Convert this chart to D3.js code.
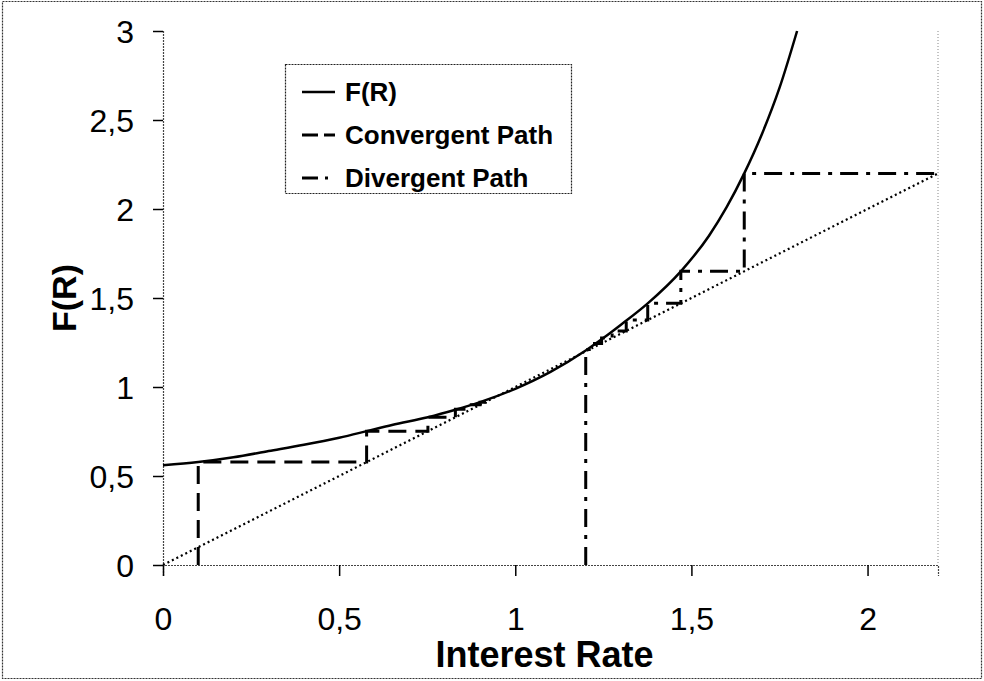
<!DOCTYPE html>
<html>
<head>
<meta charset="utf-8">
<script src="https://cdn.jsdelivr.net/npm/d3@7"></script>
<style>
  body { margin: 0; background: #fff; }
  text { font-family: "Liberation Sans", Arial, sans-serif; fill: #000; }
</style>
</head>
<body>
<div id="chart"></div>
<script>
// F(R)
var curveR = [0, 0.1, 0.2, 0.3, 0.4, 0.5, 0.578, 0.65, 0.752, 0.83, 0.9, 1.0, 1.1, 1.2, 1.25, 1.3, 1.376, 1.47, 1.55, 1.6, 1.65, 1.7, 1.75, 1.8];
var curveF = [0.56, 0.578, 0.605, 0.64, 0.675, 0.715, 0.752, 0.787, 0.83, 0.872, 0.915, 0.99, 1.085, 1.205, 1.275, 1.35, 1.47, 1.65, 1.85, 2.01, 2.2, 2.42, 2.68, 3.0];

// cobweb iterates R0, R1 = F(R0), ...
var convergentR = [0.1, 0.578, 0.752, 0.83, 0.875, 0.9, 0.915, 0.925, 0.93];
var divergentR = [1.2, 1.21, 1.225, 1.245, 1.275, 1.315, 1.376, 1.47, 1.65, 2.2];

// 45 degree line
var diagR = [0, 2.2];

var xTicks = [0, 0.5, 1, 1.5, 2];
var xTickLabels = ["0", "0,5", "1", "1,5", "2"];
var yTicks = [0, 0.5, 1, 1.5, 2, 2.5, 3];
var yTickLabels = ["0", "0,5", "1", "1,5", "2", "2,5", "3"];

var legendNames = ["F(R)", "Convergent Path", "Divergent Path"];

var svgWidth = 984;
var svgHeight = 681;
var margin = {top: 31, right: 46, bottom: 116, left: 163};
var width = svgWidth - margin.left - margin.right;
var height = svgHeight - margin.top - margin.bottom;

var svg = d3.select("#chart")
  .append("svg")
  .attr("width", svgWidth)
  .attr("height", svgHeight);

// outer frame
svg.append("rect")
  .attr("x", 2.5).attr("y", 1.5)
  .attr("width", svgWidth - 5).attr("height", svgHeight - 4)
  .attr("fill", "none")
  .attr("stroke", "#333")
  .attr("stroke-width", 1.2)
  .attr("stroke-dasharray", "2,1");

var chartGroup = svg.append("g")
  .attr("transform", `translate(${margin.left}, ${margin.top})`);

var x = d3.scaleLinear().domain([0, 2.2]).range([0, width]);
var y = d3.scaleLinear().domain([0, 3]).range([height, 0]);

// right side dotted border of the plot
chartGroup.append("line")
  .attr("x1", x(2.2)).attr("x2", x(2.2))
  .attr("y1", y(3)).attr("y2", y(0))
  .attr("stroke", "#888")
  .attr("stroke-dasharray", "1,2");

// axes
var bottomAxis = d3.axisBottom(x)
  .tickValues(xTicks)
  .tickFormat((d, i) => xTickLabels[i])
  .tickSize(11)
  .tickPadding(31);
var leftAxis = d3.axisLeft(y)
  .tickValues(yTicks)
  .tickFormat((d, i) => yTickLabels[i])
  .tickSize(10)
  .tickPadding(19);

var xg = chartGroup.append("g")
  .attr("transform", `translate(0, ${height})`)
  .call(bottomAxis);
var yg = chartGroup.append("g").call(leftAxis);

[xg, yg].forEach(function(g) {
  g.select(".domain")
    .attr("stroke", "#444")
    .attr("stroke-width", 1.2)
    .attr("stroke-dasharray", "2,1");
  g.selectAll(".tick line").attr("stroke", "#000").attr("stroke-width", 1.5);
  g.selectAll(".tick text")
    .attr("font-size", 32)
    .attr("font-family", "Liberation Sans, Arial, sans-serif")
    .attr("fill", "#000");
});
yg.selectAll(".tick text").attr("dy", "0.36em");
xg.selectAll(".tick text").attr("dy", "0.72em");

// diagonal
var line = d3.line().x(d => x(d[0])).y(d => y(d[1]));

chartGroup.append("path")
  .attr("d", line(diagR.map(r => [r, r])))
  .attr("fill", "none")
  .attr("stroke", "#000")
  .attr("stroke-width", 2.2)
  .attr("stroke-dasharray", "2,3");

// cobweb paths
function cobweb(rs) {
  var pts = [[rs[0], 0]];
  for (var i = 0; i < rs.length - 1; i++) {
    pts.push([rs[i], rs[i + 1]]);
    pts.push([rs[i + 1], rs[i + 1]]);
  }
  return pts;
}

chartGroup.append("path")
  .attr("d", line(cobweb(convergentR)))
  .attr("fill", "none")
  .attr("stroke", "#000")
  .attr("stroke-width", 3)
  .attr("stroke-dasharray", "18,9");

chartGroup.append("path")
  .attr("d", line(cobweb(divergentR)))
  .attr("fill", "none")
  .attr("stroke", "#000")
  .attr("stroke-width", 3)
  .attr("stroke-dasharray", "18,8,4,8");

// F(R)
chartGroup.append("path")
  .attr("d", d3.line().curve(d3.curveMonotoneX)
    .x((d, i) => x(curveR[i])).y(d => y(d))(curveF))
  .attr("fill", "none")
  .attr("stroke", "#000")
  .attr("stroke-width", 2.5);

// axis titles
svg.append("text")
  .attr("x", margin.left + width / 2 - 6)
  .attr("y", 667)
  .attr("text-anchor", "middle")
  .attr("font-size", 36)
  .attr("font-weight", "bold")
  .text("Interest Rate");

svg.append("text")
  .attr("transform", `translate(76, ${margin.top + height / 2}) rotate(-90)`)
  .attr("text-anchor", "middle")
  .attr("font-size", 34)
  .attr("font-weight", "bold")
  .text("F(R)");

// legend
var legend = svg.append("g");
legend.append("rect")
  .attr("x", 285.5).attr("y", 64.5)
  .attr("width", 286).attr("height", 129)
  .attr("fill", "#fff")
  .attr("stroke", "#222")
  .attr("stroke-width", 1.2)
  .attr("stroke-dasharray", "2,1");

var legendDash = [null, "16,6", "16,7,3,30"];
legendNames.forEach(function(name, i) {
  var ly = 92 + i * 43;
  legend.append("line")
    .attr("x1", 302).attr("x2", 335)
    .attr("y1", ly).attr("y2", ly)
    .attr("stroke", "#000")
    .attr("stroke-width", i == 0 ? 2.5 : 3)
    .attr("stroke-dasharray", legendDash[i]);
  legend.append("text")
    .attr("x", 345)
    .attr("y", ly)
    .attr("dy", "0.36em")
    .attr("font-size", 26)
    .attr("font-weight", "bold")
    .text(name);
});
</script>
</body>
</html>
